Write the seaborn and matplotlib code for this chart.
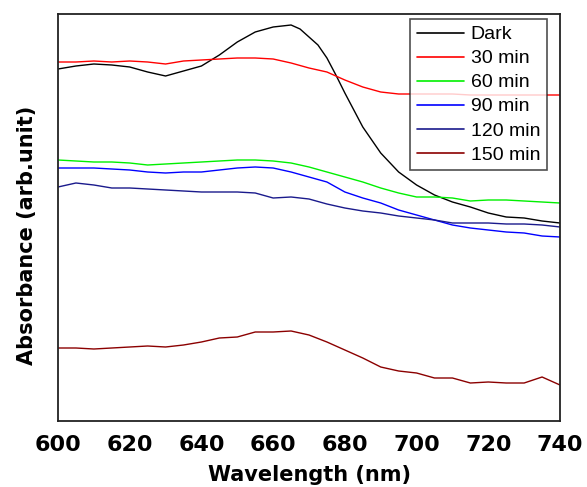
import numpy as np
import pandas as pd
import matplotlib
matplotlib.use("Agg")
import matplotlib.pyplot as plt
import seaborn as sns

# ---- data (arbitrary absorbance units) ----
wl_dark = [600, 605, 610, 615, 620, 625, 630, 635, 640, 645, 650, 655, 660, 665, 667.5,
           670, 672.5, 675, 677.5, 680, 682.5, 685, 690, 695, 700, 705, 710, 715, 720,
           725, 730, 735, 740]
dark = [3.52, 3.55, 3.57, 3.56, 3.54, 3.49, 3.45, 3.50, 3.55, 3.66, 3.79, 3.89, 3.94, 3.96, 3.92,
        3.84, 3.76, 3.63, 3.46, 3.28, 3.11, 2.94, 2.68, 2.49, 2.36, 2.26, 2.19, 2.14, 2.08,
        2.04, 2.03, 2.00, 1.98]

wl = list(range(600, 741, 5))
min30 = [3.59, 3.59, 3.60, 3.59, 3.60, 3.59, 3.57, 3.60, 3.61, 3.62, 3.63, 3.63, 3.62, 3.58,
         3.53, 3.49, 3.41, 3.34, 3.29, 3.27, 3.27, 3.27, 3.27, 3.26, 3.26, 3.26, 3.26, 3.26, 3.26]
min60 = [2.61, 2.60, 2.59, 2.59, 2.58, 2.56, 2.57, 2.58, 2.59, 2.60, 2.61, 2.61, 2.60, 2.58,
         2.54, 2.49, 2.44, 2.39, 2.33, 2.28, 2.24, 2.24, 2.23, 2.20, 2.21, 2.21, 2.20, 2.19, 2.18]
min90 = [2.53, 2.53, 2.53, 2.52, 2.51, 2.49, 2.48, 2.49, 2.49, 2.51, 2.53, 2.54, 2.53, 2.49,
         2.44, 2.39, 2.29, 2.23, 2.18, 2.11, 2.06, 2.01, 1.96, 1.93, 1.91, 1.89, 1.88, 1.85, 1.84]
min120 = [2.34, 2.38, 2.36, 2.33, 2.33, 2.32, 2.31, 2.30, 2.29, 2.29, 2.29, 2.28, 2.23, 2.24,
          2.22, 2.17, 2.13, 2.10, 2.08, 2.05, 2.03, 2.01, 1.98, 1.98, 1.98, 1.97, 1.97, 1.96, 1.94]
min150 = [0.73, 0.73, 0.72, 0.73, 0.74, 0.75, 0.74, 0.76, 0.79, 0.83, 0.84, 0.89, 0.89, 0.90,
          0.86, 0.79, 0.71, 0.63, 0.54, 0.50, 0.48, 0.43, 0.43, 0.38, 0.39, 0.38, 0.38, 0.44, 0.36]

labels = ["Dark", "30 min", "60 min", "90 min", "120 min", "150 min"]
colors = ["#000000", "#FF0000", "#00F000", "#0000FF", "#1A1A8C", "#8B0000"]
xticks = [600, 620, 640, 660, 680, 700, 720, 740]

frames = [pd.DataFrame({"wl": wl_dark, "abs": dark, "series": labels[0]})]
for lab, vals in zip(labels[1:], [min30, min60, min90, min120, min150]):
    frames.append(pd.DataFrame({"wl": wl, "abs": vals, "series": lab}))
df = pd.concat(frames, ignore_index=True)

sns.set_style("white")
plt.rcParams["text.color"] = "black"
plt.rcParams["axes.labelcolor"] = "black"
plt.rcParams["xtick.color"] = "black"

fig = plt.figure(figsize=(5.87, 4.87), dpi=100)
ax = fig.add_axes([58/587, (487-421)/487, (560-58)/587, (421-14)/487])

sns.lineplot(data=df, x="wl", y="abs", hue="series", hue_order=labels,
             palette=dict(zip(labels, colors)), estimator=None, sort=False,
             linewidth=1.0, ax=ax, legend=False)

ax.set_xlim(600, 740)
ax.set_ylim(0, 4.07)
ax.set_xticks(xticks)
ax.set_xticklabels([str(t) for t in xticks], fontsize=16, fontweight="bold",
                   family="DejaVu Sans")
ax.set_yticks([])
ax.tick_params(axis="x", length=0, pad=10)
for s in ax.spines.values():
    s.set_color("#222222")
    s.set_linewidth(1.3)

ax.set_xlabel("Wavelength (nm)", fontsize=15, fontweight="bold", family="DejaVu Sans")
ax.set_ylabel("Absorbance (arb.unit)", fontsize=15, fontweight="bold", family="DejaVu Sans")
ax.xaxis.set_label_coords(0.5, -0.108)
ax.yaxis.set_label_coords(-0.042, 0.455)

handles = [plt.Line2D([], [], color=c, lw=1.2) for c in colors]
leg = ax.legend(handles, labels, loc="upper right",
                bbox_to_anchor=(547/587, (487-19)/487), bbox_transform=fig.transFigure,
                borderaxespad=0, frameon=True, fancybox=False,
                prop={"family": "Liberation Sans", "size": 14},
                labelspacing=0.33, handlelength=2.4, handletextpad=0.36,
                borderpad=0.35)
leg.get_frame().set_edgecolor("#222222")
leg.get_frame().set_linewidth(1.2)

fig.savefig("out.png", dpi=100)
